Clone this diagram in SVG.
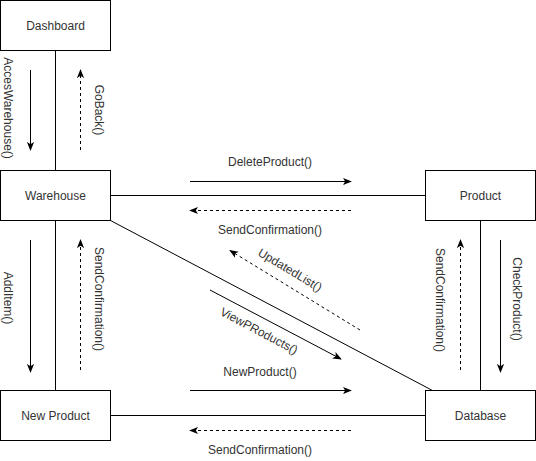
<svg xmlns="http://www.w3.org/2000/svg" width="536" height="461" viewBox="0 0 536 461">
<style>
.box{fill:#fff;stroke:#000;stroke-width:1}
.ln{stroke:#000;stroke-width:1;fill:none}
.sol{stroke:#000;stroke-width:1;fill:none;marker-end:url(#ah)}
.dsh{stroke:#000;stroke-width:1;fill:none;stroke-dasharray:3 3;marker-end:url(#ah)}
text{font-family:"Liberation Sans",Arial,Helvetica,sans-serif;font-size:12px;fill:#333;text-anchor:middle}
</style>
<defs>
<marker id="ah" viewBox="0 0 10 10" refX="9" refY="5" markerWidth="9" markerHeight="9" markerUnits="userSpaceOnUse" orient="auto">
<path d="M0,1 L10,5 L0,9 L2.5,5 Z" fill="#000"/>
</marker>
</defs>
<rect width="536" height="461" fill="#fff"/>
<g id="connectors">
<line class="ln" x1="55.5" y1="50.5" x2="55.5" y2="170.5"/>
<line class="ln" x1="55.5" y1="220.5" x2="55.5" y2="390.5"/>
<line class="ln" x1="110.5" y1="195.5" x2="425.5" y2="195.5"/>
<line class="ln" x1="110.5" y1="415.5" x2="425.5" y2="415.5"/>
<line class="ln" x1="480.5" y1="220.5" x2="480.5" y2="390.5"/>
<line class="ln" x1="110.5" y1="220.5" x2="432.5" y2="390.5"/>
<line class="sol" x1="30.5" y1="70" x2="30.5" y2="150"/>
<line class="dsh" x1="80.5" y1="150" x2="80.5" y2="70"/>
<line class="sol" x1="30.5" y1="240" x2="30.5" y2="372"/>
<line class="dsh" x1="80.5" y1="370" x2="80.5" y2="240"/>
<line class="sol" x1="190" y1="181.5" x2="351" y2="181.5"/>
<line class="dsh" x1="351" y1="210.5" x2="190" y2="210.5"/>
<line class="sol" x1="190" y1="390.5" x2="351" y2="390.5"/>
<line class="dsh" x1="351" y1="430.5" x2="190" y2="430.5"/>
<line class="sol" x1="500.5" y1="240" x2="500.5" y2="372"/>
<line class="dsh" x1="460.5" y1="370" x2="460.5" y2="240"/>
<line class="dsh" x1="360" y1="330" x2="230" y2="250.5"/>
<line class="sol" x1="210" y1="290" x2="341" y2="359"/>
<text transform="translate(8,108) rotate(90)" dy="4">AccesWarehouse()</text>
<text transform="translate(98.5,110) rotate(90)" dy="4">GoBack()</text>
<text transform="translate(8,298) rotate(90)" dy="4">AddItem()</text>
<text transform="translate(98.5,299) rotate(90)" dy="4">SendConfirmation()</text>
<text transform="translate(440,300) rotate(90)" dy="4">SendConfirmation()</text>
<text transform="translate(517,299) rotate(90)" dy="4">CheckProduct()</text>
<text x="270" y="166">DeleteProduct()</text>
<text x="270" y="234">SendConfirmation()</text>
<text x="260" y="376">NewProduct()</text>
<text x="260" y="454">SendConfirmation()</text>
<text transform="translate(290,270) rotate(31)" dy="4">UpdatedList()</text>
<text transform="translate(259,331) rotate(28)" dy="4">ViewPRoducts()</text>
</g>
<g id="dashboard"><rect class="box" x="0.5" y="0.5" width="110" height="50"/><text x="55.5" y="29.5">Dashboard</text></g>
<g id="warehouse"><rect class="box" x="0.5" y="170.5" width="110" height="50"/><text x="55.5" y="199.5">Warehouse</text></g>
<g id="newproduct"><rect class="box" x="0.5" y="390.5" width="110" height="50"/><text x="55.5" y="419.5">New Product</text></g>
<g id="product"><rect class="box" x="425.5" y="170.5" width="110" height="50"/><text x="480.5" y="199.5">Product</text></g>
<g id="database"><rect class="box" x="425.5" y="390.5" width="110" height="50"/><text x="480.5" y="419.5">Database</text></g>
</svg>
